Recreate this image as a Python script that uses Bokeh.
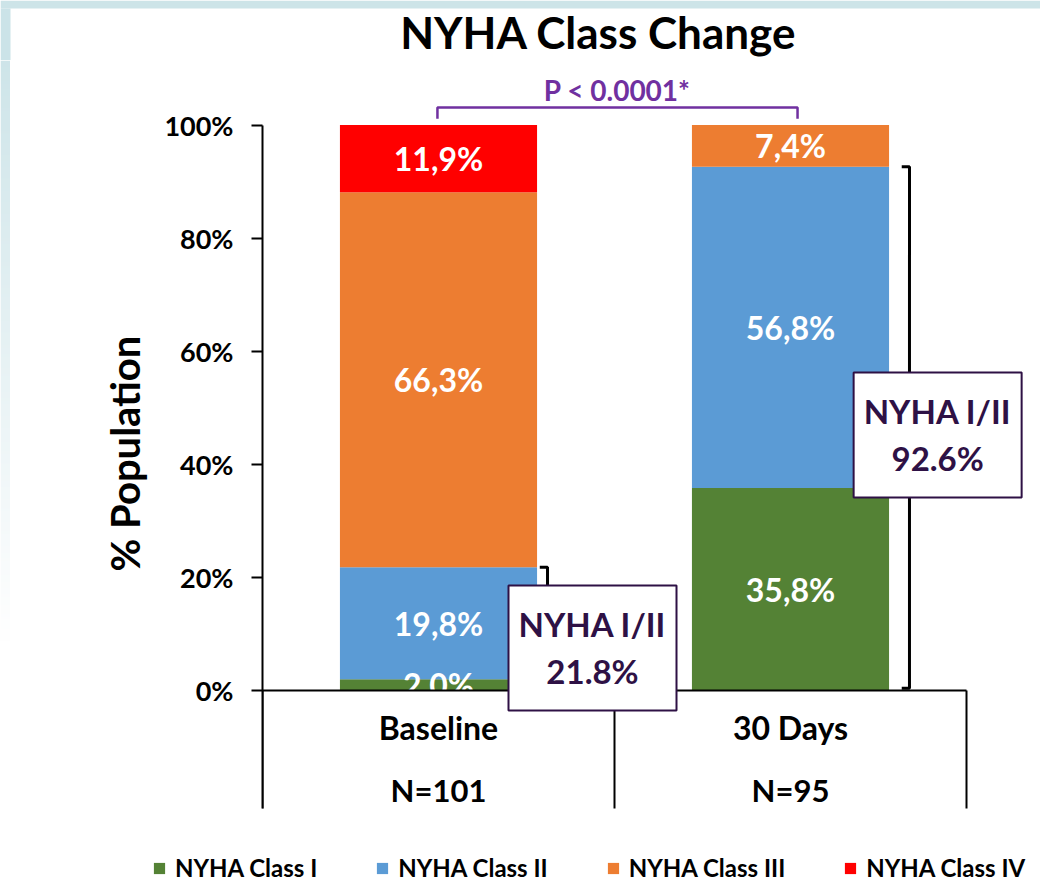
import numpy as np
from bokeh.plotting import figure
from bokeh.layouts import column, row
from bokeh.models import (Range1d, FixedTicker, PrintfTickFormatter, Legend, LegendItem,
                          ColumnDataSource)
from bokeh.core.properties import value
from bokeh.embed import file_html
from bokeh.resources import INLINE

# ---------------- data ----------------
categories = ["Baseline", "30 Days"]
sample_sizes = ["N=101", "N=95"]
class_names = ["NYHA Class I", "NYHA Class II", "NYHA Class III", "NYHA Class IV"]
class_I = [2.0, 35.8]
class_II = [19.8, 56.8]
class_III = [66.3, 7.4]
class_IV = [11.9, 0.0]
colors = ["#548235", "#5B9BD5", "#ED7D31", "#FF0000"]
y_ticks = [0, 20, 40, 60, 80, 100]
p_value_text = "P < 0.0001*"
title_text = "NYHA Class Change"

FONT = "Lato"
PX_PER_UNIT = 5.655      # vertical pixels per percentage point
CAT_PX = 352.0           # pixels per category
BAND = "#CDE4E8"
STRIP_TOP = (201, 226, 231)
FADE_PX = 640.0


def strip_rgb(page_y):
    t = min(1.0, max(0.0, page_y / FADE_PX))
    return tuple(int(c + (255 - c) * t) for c in STRIP_TOP)


# ---------------- header (band + title) ----------------
H_TOP = 60
head = figure(width=1040, height=H_TOP, x_axis_location=None, y_axis_location=None,
              output_backend="svg", toolbar_location=None, min_border=0,
              x_range=Range1d(0, 1040), y_range=Range1d(0, H_TOP))
head.outline_line_color = None
head.grid.visible = False
head.background_fill_color = "white"
head.border_fill_color = "white"
head.quad(left=[0], right=[1040], bottom=[H_TOP - 8], top=[H_TOP], fill_color=BAND, line_color=None)
r_, g_, b_ = strip_rgb(30)
head.quad(left=[0], right=[10], bottom=[0], top=[H_TOP - 8],
          fill_color=f"#{r_:02x}{g_:02x}{b_:02x}", line_color=None)
head.text(x=[598], y=[H_TOP - 31], text=[title_text], text_font=value(FONT),
          text_font_style="bold", text_font_size="44px", text_color="black",
          text_align="center", text_baseline="middle")

# ---------------- left strip ----------------
H_LEG = 38
H_MAIN = 884 - H_TOP - H_LEG
strip = figure(width=10, height=H_MAIN, x_axis_location=None, y_axis_location=None,
               output_backend="svg", toolbar_location=None, min_border=0,
               x_range=Range1d(0, 1), y_range=Range1d(0, H_MAIN))
strip.outline_line_color = None
strip.grid.visible = False
strip.border_fill_color = "white"
img = np.zeros((H_MAIN, 1), dtype=np.uint32)
view = img.view(dtype=np.uint8).reshape((H_MAIN, 1, 4))
for r in range(H_MAIN):
    page_y = H_TOP + (H_MAIN - r - 0.5)       # row 0 is drawn at the bottom
    cr, cg, cb = strip_rgb(page_y)
    view[r, 0, 0] = cr
    view[r, 0, 1] = cg
    view[r, 0, 2] = cb
    view[r, 0, 3] = 255
strip.image_rgba(image=[img], x=0, y=0, dw=1, dh=H_MAIN)

# ---------------- main figure ----------------
ZERO_PAGE_Y = 690
p = figure(width=1030, height=H_MAIN,
           x_range=Range1d(0, 778 / CAT_PX),
           y_range=Range1d(-(H_TOP + H_MAIN - ZERO_PAGE_Y) / PX_PER_UNIT,
                           (ZERO_PAGE_Y - H_TOP) / PX_PER_UNIT),
           x_axis_location=None,
           output_backend="svg", toolbar_location=None,
           min_border=0, min_border_left=252)
p.xgrid.visible = False
p.ygrid.visible = False
p.outline_line_color = None
p.background_fill_color = "white"
p.border_fill_color = "white"

below_axis = -118 / PX_PER_UNIT
ax = p.yaxis[0]
ax.ticker = FixedTicker(ticks=y_ticks)
ax.formatter = PrintfTickFormatter(format="%d%%")
ax.bounds = (below_axis, 100)
ax.axis_line_width = 2
ax.axis_line_color = "black"
ax.major_tick_line_width = 2
ax.major_tick_line_color = "black"
ax.major_tick_out = 11
ax.major_tick_in = 0
ax.minor_tick_line_color = None
ax.major_label_text_font = FONT
ax.major_label_text_font_style = "bold"
ax.major_label_text_font_size = "27px"
ax.major_label_text_color = "black"
ax.major_label_standoff = 18
ax.axis_label = "% Population"
ax.axis_label_text_font = FONT
ax.axis_label_text_font_style = "bold"
ax.axis_label_text_font_size = "40px"
ax.axis_label_text_color = "black"
ax.axis_label_standoff = 12

# ---------------- stacked bars ----------------
xs = [0.5, 1.5]
src = ColumnDataSource(dict(x=xs, c1=class_I, c2=class_II, c3=class_III, c4=class_IV))
renderers = p.vbar_stack(["c1", "c2", "c3", "c4"], x="x", width=0.56,
                         fill_color=colors, line_color=None, source=src)

# segment labels
lx, ly, lt = [], [], []
for i, xc in enumerate(xs):
    base = 0.0
    for series in (class_I, class_II, class_III, class_IV):
        v = series[i]
        if v > 0:
            lx.append(xc)
            ly.append(base + v / 2)
            lt.append(f"{v:.1f}".replace(".", ",") + "%")
        base += v
p.text(x=lx, y=ly, text=lt, text_font=value(FONT), text_font_style="bold",
       text_font_size="32px", text_color="white", text_align="center", text_baseline="middle")

# ---------------- category axis (drawn) ----------------
n_cat = len(categories)
p.segment(x0=[0], y0=[0], x1=[n_cat], y1=[0], line_color="black", line_width=2)
p.segment(x0=list(range(n_cat + 1)), y0=[0] * (n_cat + 1), x1=list(range(n_cat + 1)),
          y1=[below_axis] * (n_cat + 1), line_color="black", line_width=2)
p.text(x=xs, y=[-37 / PX_PER_UNIT] * n_cat, text=categories, text_font=value(FONT),
       text_font_style="bold", text_font_size="32px", text_color="black",
       text_align="center", text_baseline="middle")
p.text(x=xs, y=[-99 / PX_PER_UNIT] * n_cat, text=sample_sizes, text_font=value(FONT),
       text_font_style="bold", text_font_size="31px", text_color="black",
       text_align="center", text_baseline="middle")

# ---------------- NYHA I/II brackets + boxes ----------------
box_color = "#2E1145"
totals_I_II = [a + b for a, b in zip(class_I, class_II)]
bracket_x = [xs[0] + 0.3097, xs[1] + 0.338]
box_cx = [xs[0] + 0.4375, xs[1] + 0.418]
box_cy = [7.52, 45.18]
hw, hh = 84 / CAT_PX, 62.5 / PX_PER_UNIT
tick = 0.022
for i in range(n_cat):
    bx = bracket_x[i]
    top = totals_I_II[i]
    p.line(x=[bx - tick, bx, bx, bx - tick], y=[top, top, 0.4, 0.4],
           line_color="black", line_width=3)
p.quad(left=[c - hw for c in box_cx], right=[c + hw for c in box_cx],
       bottom=[c - hh for c in box_cy], top=[c + hh for c in box_cy],
       fill_color="white", line_color=box_color, line_width=2)
p.text(x=box_cx, y=[c + 24 / PX_PER_UNIT for c in box_cy], text=["NYHA I/II"] * n_cat,
       text_font=value(FONT), text_font_style="bold", text_font_size="33px",
       text_color=box_color, text_align="center", text_baseline="middle")
p.text(x=box_cx, y=[c - 23 / PX_PER_UNIT for c in box_cy],
       text=[f"{t:.1f}%" for t in totals_I_II],
       text_font=value(FONT), text_font_style="bold", text_font_size="33px",
       text_color=box_color, text_align="center", text_baseline="middle")

# ---------------- p-value bracket ----------------
purple = "#7030A0"
py_top = 100 + 3.1
py_end = 100 + 1.1
p.line(x=[xs[0] - 0.003, xs[0] - 0.003, xs[1] + 0.02, xs[1] + 0.02],
       y=[py_end, py_top, py_top, py_end], line_color=purple, line_width=2.5)
p.text(x=[(xs[0] + xs[1]) / 2 + 0.008], y=[106.2], text=[p_value_text], text_font=value(FONT),
       text_font_style="bold", text_font_size="28px", text_color=purple,
       text_align="center", text_baseline="middle")

# ---------------- legend (separate strip below) ----------------
leg_fig = figure(width=1040, height=H_LEG, x_axis_location=None, y_axis_location=None,
                 output_backend="svg", toolbar_location=None, min_border=0,
                 x_range=Range1d(0, 1040), y_range=Range1d(0, H_LEG))
leg_fig.outline_line_color = None
leg_fig.grid.visible = False
leg_renderers = [leg_fig.vbar(x=[-100], top=[0], width=1, fill_color=c, line_color=None)
                 for c in colors]
legend = Legend(items=[LegendItem(label=n, renderers=[r]) for n, r in zip(class_names, leg_renderers)],
                location=(152, 2), orientation="horizontal",
                label_text_font=FONT, label_text_font_style="bold", label_text_font_size="24px",
                label_text_color="black", glyph_width=14, glyph_height=14, label_standoff=9,
                label_height=20, spacing=58, padding=0, margin=0, border_line_color=None,
                background_fill_alpha=0)
leg_fig.add_layout(legend)

layout = column(head, row(strip, p, spacing=0), leg_fig, spacing=0)
open("out.html", "w").write(file_html(layout, INLINE))
